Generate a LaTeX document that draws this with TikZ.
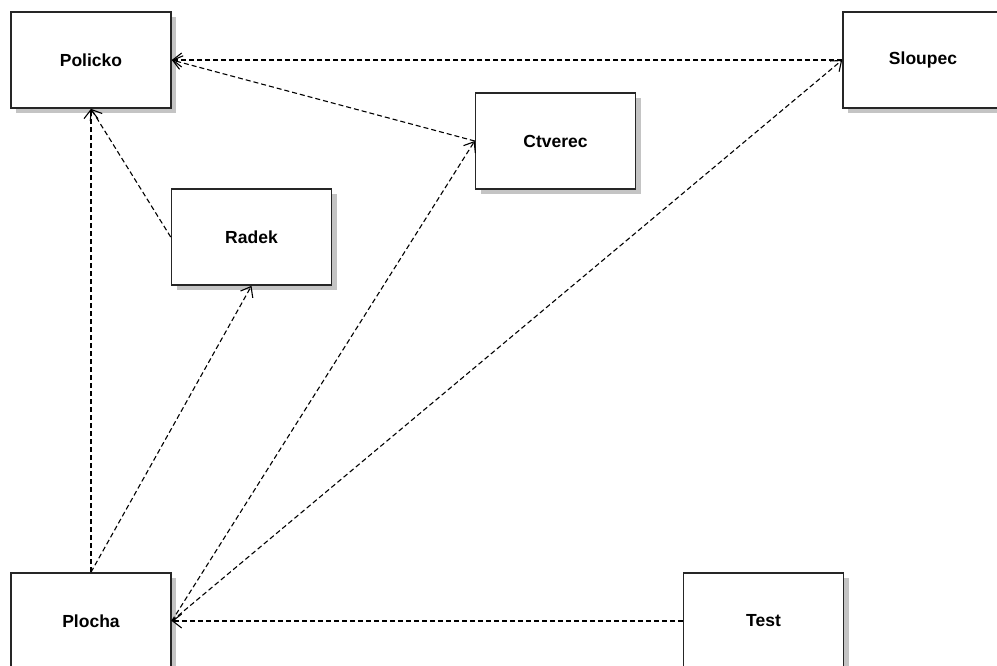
\documentclass[tikz,border=0pt]{standalone}
\usepackage{fontspec}
\setmainfont{Liberation Sans}
\usetikzlibrary{arrows.meta,shadows}
\definecolor{shade}{HTML}{C4C4C4}
\tikzset{
  cls/.style={draw=black!85, line width=1.6pt, fill=white, rectangle,
    minimum width=160pt, minimum height=96pt, inner sep=0pt,
    font=\fontsize{17.5}{20}\selectfont\bfseries,
    drop shadow={shadow xshift=5pt, shadow yshift=-5pt, fill=shade, opacity=1}},
  dep/.style={draw=black, line width=1.1pt, dash pattern=on 5pt off 3pt,
    -{Straight Barb[length=9pt,width=14pt,line width=1.1pt]}}
}
\begin{document}
\begin{tikzpicture}[x=1pt,y=-1pt]
  \useasboundingbox (0,0) rectangle (997,666);
  \clip (0,0) rectangle (997,666);
  \fill[white] (0,0) rectangle (997,666);
  % classes
  \node[cls] (policko) at (91,60) {Policko};
  \node[cls] (sloupec) at (923,60) {Sloupec};
  \node[cls] (ctverec) at (555.5,141) {Ctverec};
  \node[cls] (radek) at (251.5,237) {Radek};
  \node[cls] (plocha) at (91,621) {Plocha};
  \node[cls] (test) at (763.5,621) {Test};
  % dependencies
  \draw[dep] (sloupec.west) -- (policko.east);
  \draw[dep] (ctverec.west) -- (policko.east);
  \draw[dep] (radek.west) -- (policko.south);
  \draw[dep] (plocha.north) -- (policko.south);
  \draw[dep] (plocha.north) -- (radek.south);
  \draw[dep] (plocha.east) -- (ctverec.west);
  \draw[dep] (plocha.east) -- (sloupec.west);
  \draw[dep] (test.west) -- (plocha.east);
\end{tikzpicture}
\end{document}
